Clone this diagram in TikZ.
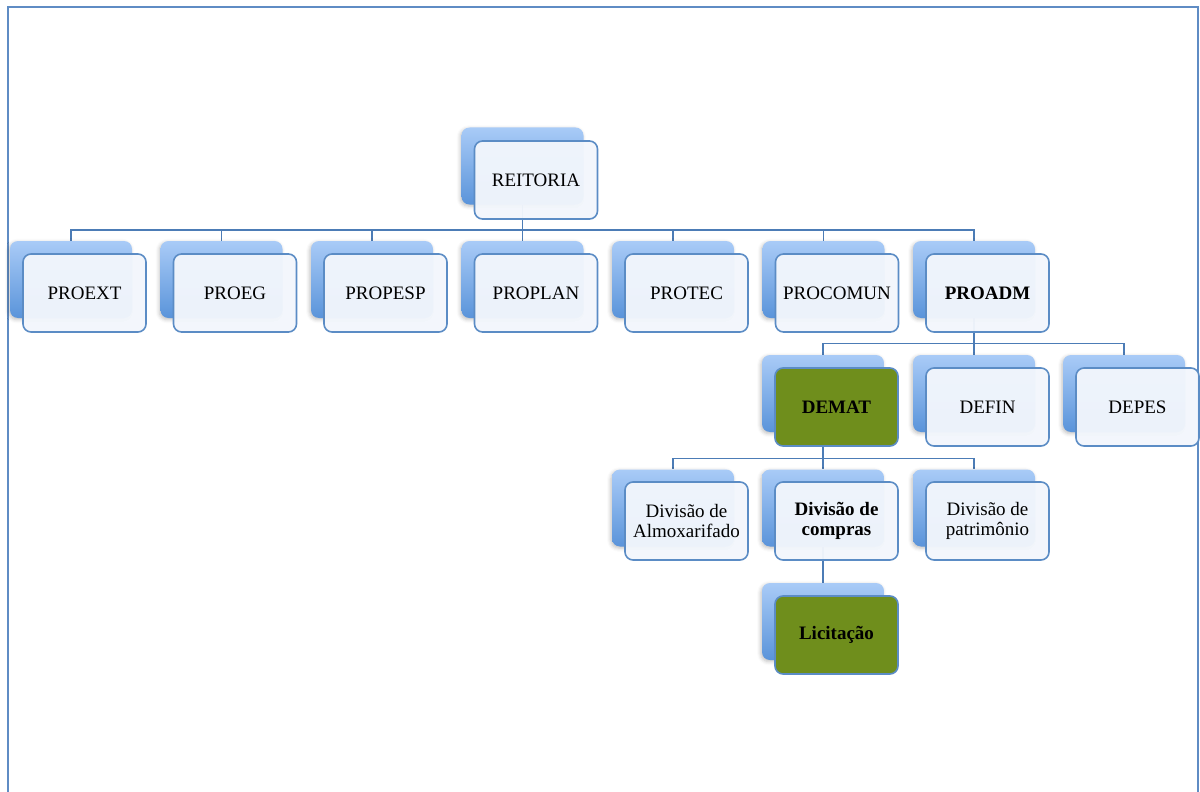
\documentclass[tikz,border=0pt]{standalone}
\usepackage{fontspec}
\setmainfont{Liberation Serif}
\usetikzlibrary{shadows.blur}
\definecolor{backtop}{HTML}{A9CBF7}
\definecolor{backbot}{HTML}{5A94DA}
\definecolor{frontfill}{HTML}{F2F6FC}
\definecolor{boxline}{HTML}{5B8CC5}
\definecolor{connline}{HTML}{4C7CB6}
\definecolor{olivebox}{HTML}{6F8E1C}
\definecolor{frameline}{HTML}{5F8CC4}
\pgfdeclarelayer{background}
\pgfsetlayers{background,main}

\begin{document}
\begin{tikzpicture}[x=0.5pt, y=-0.5pt,
	back/.style={rounded corners=4pt, minimum width=61pt, minimum height=38.5pt, inner sep=0pt,
		top color=backtop, bottom color=backbot,
		blur shadow={shadow xshift=-0.6pt, shadow yshift=-0.8pt, shadow opacity=25, shadow blur steps=4}},
	front/.style={rounded corners=4pt, minimum width=61.5pt, minimum height=39pt, inner sep=0pt,
		draw=boxline, line width=0.8pt, fill=frontfill, fill opacity=0.96, text opacity=1,
		align=center, font=\fontsize{9.5}{10}\selectfont},
	hilite/.style={front, fill=olivebox, fill opacity=1, font=\fontsize{9.5}{10}\selectfont\bfseries},
	conn/.style={draw=connline, line width=0.8pt},
	frame/.style={draw=frameline, line width=1pt}]
	\useasboundingbox (0,0) rectangle (1200,792);
	\draw[frame] (8,792) -- (8,7) -- (1198,7) -- (1198,792);

	% top
	\node[back] (reit-b) at (522.5,166) {};
	\node[front] (reitoria) at (536,180) {REITORIA};

	% pro-reitorias
	\foreach \n/\x/\t in {proext/71/PROEXT, proeg/221.5/PROEG, propesp/372/PROPESP,
		proplan/522.5/PROPLAN, protec/673/PROTEC, procomun/823.5/PROCOMUN, proadm/974/\textbf{PROADM}} {
		\node[back] (\n-b) at (\x,279.5) {};
		\node[front] (\n) at (\x+13.5,293) {\t};
	}

	% departamentos
	\node[back] (demat-b) at (823,393.5) {};
	\node[hilite] (demat) at (836.5,407) {DEMAT};
	\node[back] (defin-b) at (974,393.5) {};
	\node[front] (defin) at (987.5,407) {DEFIN};
	\node[back] (depes-b) at (1124,393.5) {};
	\node[front] (depes) at (1137.5,407) {DEPES};

	% divisoes
	\node[back] (almox-b) at (673,508) {};
	\node[front] (almox) at (686.5,521) {Divisão de\\Almoxarifado};
	\node[back] (compras-b) at (823,508) {};
	\node[front, font=\fontsize{9.5}{10}\selectfont\bfseries] (compras) at (836.5,521) {Divisão de\\compras};
	\node[back] (patrim-b) at (974,508) {};
	\node[front] (patrim) at (987.5,521) {Divisão de\\patrimônio};

	\node[back] (licit-b) at (823,621.5) {};
	\node[hilite] (licit) at (836.5,635) {Licitação};

	\begin{pgfonlayer}{background}
	\foreach \c in {proext,proeg,propesp,proplan,protec,procomun,proadm}
		\draw[conn] (reit-b.south) -- ++(0,25) -| (\c-b.north);
	\foreach \c in {demat,defin,depes}
		\draw[conn] (proadm-b.south) -- ++(0,25) -| (\c-b.north);
	\foreach \c in {almox,compras,patrim}
		\draw[conn] (demat-b.south) -- ++(0,26) -| (\c-b.north);
	\draw[conn] (compras-b.south) -- (licit-b.north);
	\end{pgfonlayer}
\end{tikzpicture}
\end{document}
